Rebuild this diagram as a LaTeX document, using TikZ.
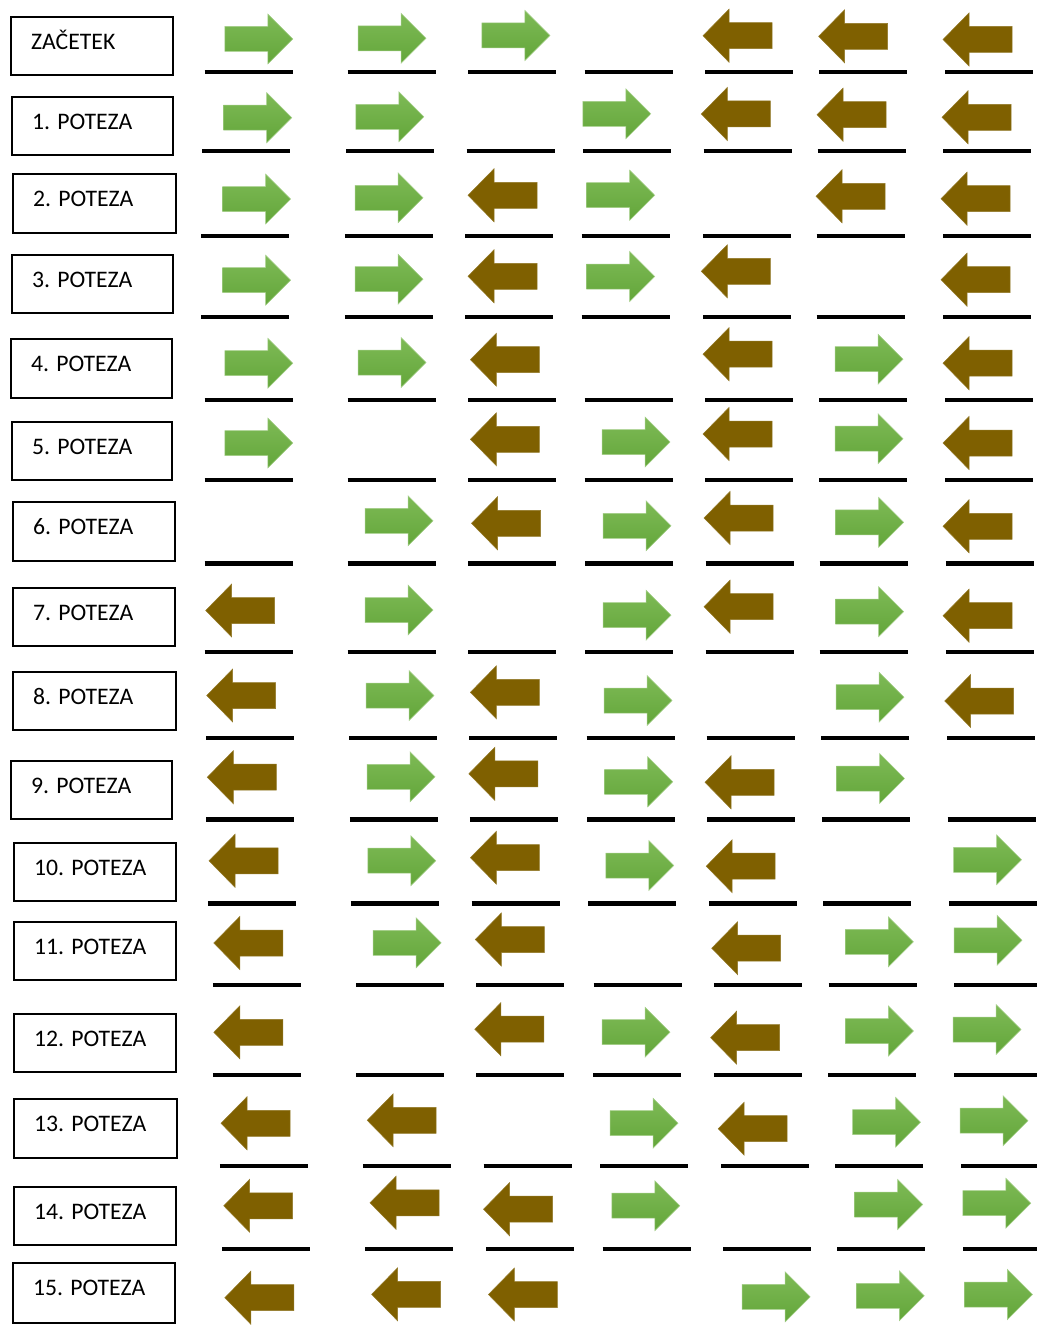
\documentclass[tikz,border=0pt]{standalone}
\usepackage{fontspec}
\setmainfont{Carlito}
\definecolor{brownarrow}{RGB}{127,96,0}
\definecolor{greentop}{RGB}{126,186,86}
\definecolor{greenbot}{RGB}{99,166,58}
\tikzset{
  greenfill/.style={top color=greentop, bottom color=greenbot, draw=greentop!70!white, line width=0.5pt},
  brownfill/.style={fill=brownarrow, draw=brownarrow!85!white, line width=0.5pt},
  garrow/.pic={\path[greenfill] (0,-12.5) -- (43,-12.5) -- (43,-25) -- (68,0) -- (43,25) -- (43,12.5) -- (0,12.5) -- cycle;},
  barrow/.pic={\path[brownfill] (0,0) -- (26,-26.5) -- (26,-13) -- (69,-13) -- (69,13) -- (26,13) -- (26,26.5) -- cycle;},
  leaf/.style={line width=4.2pt, black},
  movebox/.style={draw=black, line width=1.8pt, fill=white, anchor=north west, inner sep=0pt},
  movetext/.style={anchor=base west, inner sep=0pt, font=\fontsize{23.7}{28}\selectfont},
}
\begin{document}
\begin{tikzpicture}[x=1pt, y=-1pt]
\useasboundingbox (0,0) rectangle (1036,1335);
\fill[white] (0,0) rectangle (1036,1335);

% move labels
\foreach \i/\l/\t/\r/\b/\txt in {
  0/10/16/172/74/ZAČETEK,
  1/11/96/172/154/1. POTEZA,
  2/12/173/175/232/2. POTEZA,
  3/11/254/172/312/3. POTEZA,
  4/10/338/171/397/4. POTEZA,
  5/11/421/171/479/5. POTEZA,
  6/12/501/174/560/6. POTEZA,
  7/12/587/174/645/7. POTEZA,
  8/12/671/175/729/8. POTEZA,
  9/10/760/171/818/9. POTEZA,
  10/13/842/175/900/10. POTEZA,
  11/13/921/175/979/11. POTEZA,
  12/13/1013/175/1071/12. POTEZA,
  13/13/1098/176/1157/13. POTEZA,
  14/13/1186/175/1244/14. POTEZA,
  15/12/1262/174/1322/15. POTEZA}
{
  \pgfmathsetmacro{\w}{\r-\l}
  \pgfmathsetmacro{\h}{\b-\t}
  \node[movebox, minimum width=\w pt, minimum height=\h pt] (box\i) at (\l,\t) {};
  \node[movetext] (lbl\i) at ([xshift=21pt, yshift=-33.5pt]box\i.north west) {\txt};
}

% lily pads (positions) under each row
\foreach \y/\xs in {
  72.3/{204.6,347.6,468.2,584.5,705,819,945},
  150.7/{202.4,346,466.6,582.8,703.5,817.6,943},
  236/{201.3,344.8,465,581.7,703,816.5,943},
  317/{201.3,344.8,465,581.7,703,816.5,943},
  400.3/{204.6,347.6,468.2,584.5,705,819,945},
  480/{204.6,347.6,468.2,584.5,705,819,945},
  563.5/{204.6,347.6,468,585,705.7,819.7,945.8},
  652/{204.6,347.6,468,585,705.7,819.7,945.8},
  738/{206.2,349.2,469.3,586.7,706.7,821.4,947},
  819.5/{206.2,349.8,469.8,587.2,707.3,822,947.5},
  903.5/{207.8,350.9,471.5,588.3,709,823,949},
  985.3/{212.8,355.8,476.4,593.7,713.8,828.5,954},
  1075/{212.8,355.8,476.4,593.2,713.8,828,954},
  1166.3/{219.8,362.9,483.5,600.3,721,835,961},
  1248.7/{222,365,486.2,602.5,723,837.2,963.3}}
{
  \foreach \x in \xs { \draw[leaf] (\x,\y) -- ++(88,0); }
}

% green frogs (moving right)
\foreach \x/\y in {
  224.8/39, 358/38.3, 481.9/35.5,
  223.7/117.7, 355.8/116.8, 582.8/113.8,
  222.6/199, 355/197.8, 586.7/195.2,
  222.6/280.2, 355/279.2, 586.7/276.5,
  224.8/363.2, 358/362.5, 835/359.2,
  224.8/443, 602/442, 835/438.7,
  365/520.8, 603/525.8, 835.6/522.3,
  365/610, 603/615.2, 835.6/611.7,
  366/695.5, 604/700.5, 836/697.2,
  367/776.8, 604.7/781.8, 836.6/778.5,
  367.8/860.7, 605.8/865.5, 953.5/859.8,
  373.2/942.8, 845.4/941.8, 954/940.3,
  602/1032.2, 845.4/1031, 953/1029.5,
  610/1123.2, 852.5/1122.2, 960/1120.7,
  611.8/1205.7, 854.7/1204.5, 962.8/1203.2,
  742.2/1296.8, 856.3/1295.8, 964.4/1294.5}
{ \pic at (\x,\y) {garrow}; }

% brown frogs (moving left)
\foreach \x/\y in {
  703/35.7, 818.6/36.3, 943/39.5,
  701.3/114, 817/114.7, 942/117.3,
  468/195.3, 816/196.3, 941/198.7,
  468/276.3, 701.3/271.3, 941/279.7,
  470.4/359.7, 703/354.2, 943/363.2,
  470.4/439.3, 703/434, 943/443,
  471.5/523.3, 704/518, 943/526.3,
  205.7/610.5, 704/606.7, 943/615.7,
  206.7/695.5, 470.4/692.3, 944.7/701,
  207.3/777.2, 468.8/773.8, 705/782.3,
  209/860.8, 470.4/857.7, 706.2/866.2,
  213.8/943, 475.3/939.5, 711.7/948.2,
  213.8/1032.3, 474.8/1029.2, 710.6/1037.7,
  221/1123.3, 367.2/1120.3, 718.2/1128.7,
  223.7/1205.8, 370/1202.8, 483.5/1209.2,
  224.8/1297.7, 371.6/1294.3, 488.4/1294.5}
{ \pic at (\x,\y) {barrow}; }
\end{tikzpicture}
\end{document}
